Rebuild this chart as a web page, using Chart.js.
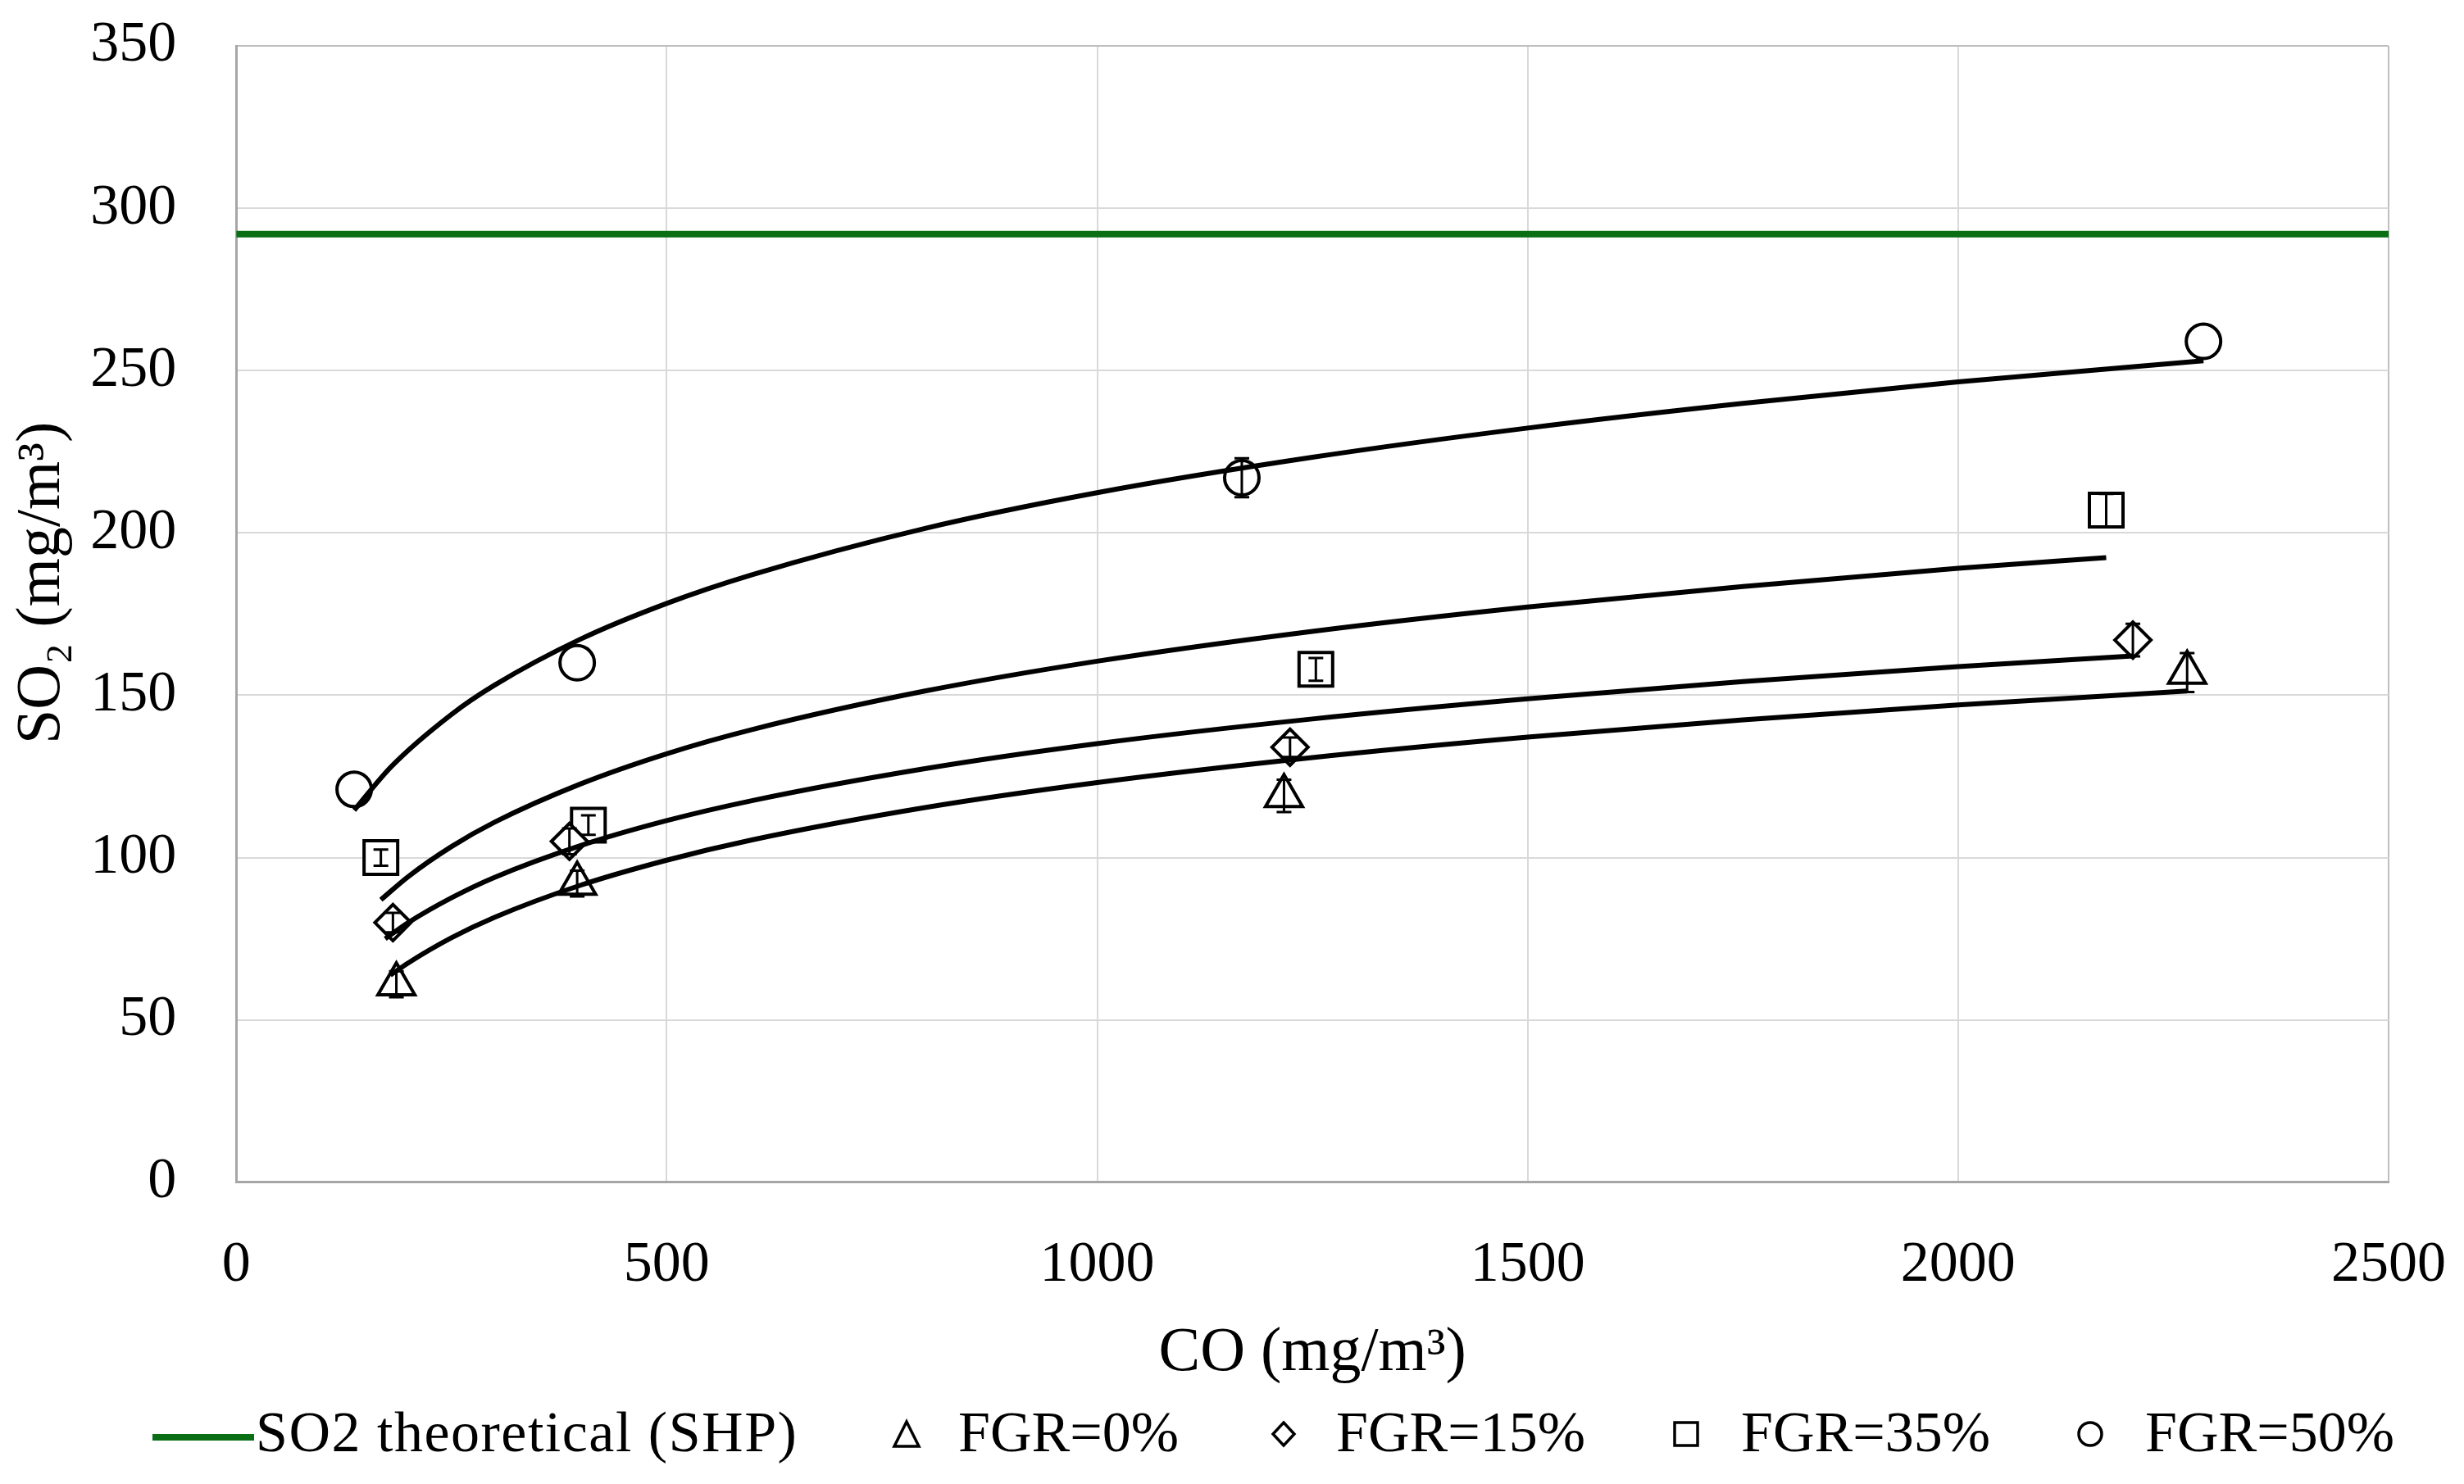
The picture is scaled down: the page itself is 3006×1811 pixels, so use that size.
<!DOCTYPE html>
<html><head><meta charset="utf-8">
<script src="https://cdn.jsdelivr.net/npm/chart.js@4.4.0/dist/chart.umd.min.js"></script>
<style>
html,body{margin:0;padding:0;background:#fff;}
#wrap{position:relative;width:3006px;height:1811px;overflow:hidden;}
#c{position:absolute;left:0;top:0;}
.lt{position:absolute;top:1706px;height:84px;font-family:"Liberation Serif",serif;font-size:70px;line-height:84px;color:#000;white-space:nowrap;}
.lm{position:absolute;}
</style></head>
<body>
<div id="wrap"><canvas id="c" width="3006" height="1811"></canvas><div id="legend"></div></div>
<script>
// ---- data ----
const xTicks = [0, 500, 1000, 1500, 2000, 2500];
const yTicks = [0, 50, 100, 150, 200, 250, 300, 350];
const theoreticalX = [0, 2500];
const theoreticalY = [292, 292];

const co0  = [186, 396, 1217, 2266];
const so20 = [61, 92, 119, 157];
const err0 = [4, 4, 5, 6];

const co15  = [182, 387, 1224, 2203];
const so215 = [80, 105, 134, 167];
const err15 = [3, 4, 3, 5];

const co35  = [168, 409, 1254, 2172];
const so235 = [100, 110, 158, 207];
const err35 = [2.5, 3, 3.5, 5];

const co50  = [137, 396, 1168, 2285];
const so250 = [121, 160, 217, 259];
const err50 = [0, 0, 6, 0];

// trend curves
const trendX0  = [179, 200, 250, 300, 400, 500, 600, 800, 1000, 1250, 1500, 1750, 2000, 2266];
const trendY0  = [63.8, 67.6, 75.3, 81.6, 91.5, 99.2, 105.5, 115.4, 123.1, 130.8, 137.1, 142.4, 147.0, 151.3];
const trendX15 = [173, 200, 250, 300, 400, 500, 600, 800, 1000, 1250, 1500, 1750, 2000, 2203];
const trendY15 = [75.0, 80.0, 87.6, 93.9, 103.7, 111.4, 117.6, 127.4, 135.1, 142.7, 148.9, 154.2, 158.8, 162.1];
const trendX35 = [168, 200, 250, 300, 400, 500, 600, 800, 1000, 1250, 1500, 1750, 2000, 2172];
const trendY35 = [87.0, 94.2, 103.4, 110.9, 122.7, 132.0, 139.5, 151.3, 160.5, 169.7, 177.2, 183.5, 189.1, 192.4];
const trendX50 = [137, 180, 250, 300, 400, 500, 600, 800, 1000, 1250, 1500, 1750, 2000, 2285];
const trendY50 = [114.6, 128.0, 144.1, 153.1, 167.3, 178.3, 187.2, 201.4, 212.4, 223.3, 232.3, 239.9, 246.5, 253.0];

const seriesNames = ['SO2 theoretical (SHP)', 'FGR=0%', 'FGR=15%', 'FGR=35%', 'FGR=50%'];

// ---- build ----
const zip = (xs, ys) => xs.map((x, i) => ({x, y: ys[i]}));
const GREEN = '#0a6e14';
const FONT = '"Liberation Serif", serif';
const FS = 70;
const FT = 76;

function trendDS(xs, ys) {
  return {type: 'line', data: zip(xs, ys), showLine: true, borderColor: '#000', borderWidth: 6,
    pointRadius: 0, cubicInterpolationMode: 'monotone', fill: false, order: 0};
}
function markDS(label, xs, ys, errs, style, r) {
  return {type: 'scatter', label, data: zip(xs, ys), errs, pointStyle: style, pointRadius: r,
    pointBackgroundColor: '#fff', pointBorderColor: '#000', pointBorderWidth: 4, order: 1};
}

const errorBars = {
  id: 'errorBars',
  afterDatasetsDraw(chart) {
    const {ctx, scales: {x, y}} = chart;
    ctx.save();
    ctx.strokeStyle = '#000';
    ctx.lineWidth = 3;
    chart.data.datasets.forEach(ds => {
      if (!ds.errs) return;
      ds.data.forEach((p, i) => {
        if (!ds.errs[i]) return;
        const px = x.getPixelForValue(p.x);
        const y1 = y.getPixelForValue(p.y + ds.errs[i]);
        const y2 = y.getPixelForValue(p.y - ds.errs[i]);
        ctx.beginPath();
        ctx.moveTo(px, y1); ctx.lineTo(px, y2);
        ctx.moveTo(px - 9, y1); ctx.lineTo(px + 9, y1);
        ctx.moveTo(px - 9, y2); ctx.lineTo(px + 9, y2);
        ctx.stroke();
      });
    });
    ctx.restore();
  }
};

new Chart(document.getElementById('c'), {
  data: {
    datasets: [
      {type: 'line', label: seriesNames[0], data: zip(theoreticalX, theoreticalY), borderColor: GREEN,
        borderWidth: 8, pointRadius: 0, fill: false, order: 0},
      trendDS(trendX0, trendY0), trendDS(trendX15, trendY15), trendDS(trendX35, trendY35), trendDS(trendX50, trendY50),
      markDS(seriesNames[1], co0, so20, err0, 'triangle', 26),
      markDS(seriesNames[2], co15, so215, err15, 'rectRot', 22),
      markDS(seriesNames[3], co35, so235, err35, 'rect', 29),
      markDS(seriesNames[4], co50, so250, err50, 'circle', 21)
    ]
  },
  options: {
    responsive: false,
    devicePixelRatio: 1,
    animation: false,
    layout: {padding: {top: 56, right: 92, bottom: 113, left: 0}},
    plugins: {legend: {display: false}, tooltip: {enabled: false}},
    scales: {
      x: {
        type: 'linear', min: xTicks[0], max: xTicks[xTicks.length - 1],
        afterBuildTicks: s => { s.ticks = xTicks.map(v => ({value: v})); },
        afterFit: s => { s.paddingLeft = 0; s.paddingRight = 0; },
        grid: {drawTicks: false, lineWidth: 2, color: c => (c.tick && c.tick.value === 2500) ? '#bfbfbf' : '#d9d9d9'},
        border: {display: true, color: '#a6a6a6', width: 3},
        ticks: {padding: 60, color: '#000', font: {family: FONT, size: FS}, maxRotation: 0, callback: v => String(v)},
        title: {display: true, text: 'CO (mg/m³)', color: '#000', font: {family: FONT, size: FT}, padding: {top: -40, bottom: 0}}
      },
      y: {
        type: 'linear', min: yTicks[0], max: yTicks[yTicks.length - 1],
        afterBuildTicks: s => { s.ticks = yTicks.map(v => ({value: v})); },
        afterFit: s => { s.paddingTop = 0; s.paddingBottom = 0; },
        grid: {drawTicks: false, lineWidth: 2, color: c => (c.tick && c.tick.value === 350) ? '#bfbfbf' : '#d9d9d9'},
        border: {display: true, color: '#a6a6a6', width: 3},
        ticks: {padding: 73, color: '#000', font: {family: FONT, size: FS}, callback: v => String(v)},
        title: {display: true, text: '\u2002\u2002SO₂ (mg/m³)', color: '#000', font: {family: FONT, size: FT}, padding: {top: 6, bottom: -60}}
      }
    }
  },
  plugins: [errorBars]
});

// ---- legend (HTML, real text) ----
const legendItems = [
  {name: seriesNames[0], mark: 'line', mx: 186, tx: 312},
  {name: seriesNames[1], mark: 'triangle', mx: 1106, tx: 1169},
  {name: seriesNames[2], mark: 'diamond', mx: 1566, tx: 1630},
  {name: seriesNames[3], mark: 'square', mx: 2057, tx: 2124},
  {name: seriesNames[4], mark: 'circle', mx: 2550, tx: 2617}
];
const svgFor = m => {
  const s = 'fill="#fff" stroke="#000" stroke-width="3.5"';
  if (m === 'line') return `<svg width="124" height="10"><rect x="0" y="1" width="124" height="8" fill="${GREEN}"/></svg>`;
  if (m === 'triangle') return `<svg width="40" height="40"><polygon points="20,5 35,35 5,35" ${s}/></svg>`;
  if (m === 'diamond') return `<svg width="40" height="40"><polygon points="20,6 33,20 20,34 7,20" ${s}/></svg>`;
  if (m === 'square') return `<svg width="40" height="40"><rect x="6" y="6" width="28" height="28" ${s}/></svg>`;
  return `<svg width="40" height="40"><circle cx="20" cy="20" r="14" ${s}/></svg>`;
};
const lg = document.getElementById('legend');
legendItems.forEach(it => {
  const m = document.createElement('div');
  m.className = 'lm';
  m.innerHTML = svgFor(it.mark);
  if (it.mark === 'line') { m.style.left = it.mx + 'px'; m.style.top = '1745px'; }
  else { m.style.left = (it.mx - 20) + 'px'; m.style.top = '1730px'; }
  lg.appendChild(m);
  const t = document.createElement('div');
  t.className = 'lt';
  t.style.left = it.tx + 'px';
  if (it.mark === 'line') t.style.letterSpacing = '1.5px';
  t.textContent = it.name;
  lg.appendChild(t);
});
</script>
</body></html>
